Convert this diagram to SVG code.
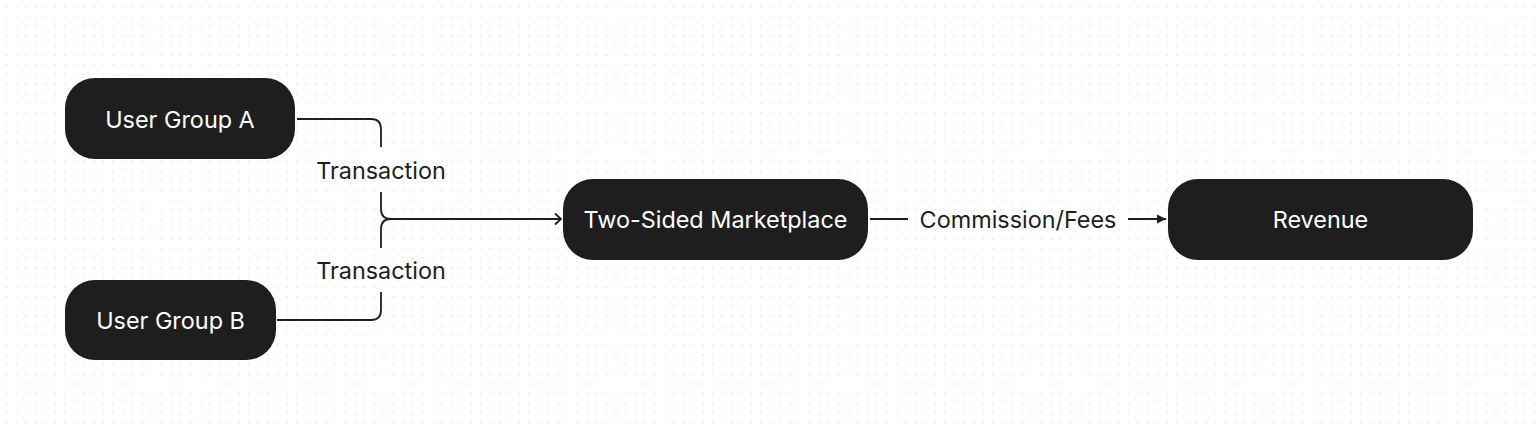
<svg xmlns="http://www.w3.org/2000/svg" width="1536" height="427" viewBox="0 0 1536 427">
<defs>
<pattern id="dots" x="0" y="0" width="9.67" height="9.67" patternUnits="userSpaceOnUse">
<rect x="6.2" y="6.2" width="1.2" height="1.2" fill="#d6d6d6"/>
</pattern>
<marker id="chev" markerWidth="12" markerHeight="14" refX="10" refY="7" orient="auto" markerUnits="userSpaceOnUse">
<path d="M4,1.5 L10,7 L4,12.5" fill="none" stroke="#1e1e1e" stroke-width="1.8"/>
</marker>
<marker id="tri" markerWidth="12" markerHeight="12" refX="10" refY="6" orient="auto" markerUnits="userSpaceOnUse">
<path d="M1,1.5 L10,6 L1,10.5 Z" fill="#1e1e1e"/>
</marker>
</defs>
<style>
.node rect{fill:#1e1e1e;}
.node text{fill:#ffffff;font-family:Inter,"Liberation Sans",sans-serif;font-size:23.4px;text-anchor:middle;dominant-baseline:central;}
.edge{fill:none;stroke:#1e1e1e;stroke-width:1.8;}
.lbl{fill:#1e1e1e;font-family:Inter,"Liberation Sans",sans-serif;font-size:23.4px;text-anchor:middle;dominant-baseline:central;}
</style>
<rect width="1536" height="427" fill="#ffffff"/>
<rect width="1536" height="427" fill="url(#dots)"/>
<g id="connectors">
<path class="edge" d="M297,119 H371 Q381,119 381,129 V147"/>
<path class="edge" d="M381,192 V209 Q381,219 391,219 H561" marker-end="url(#chev)"/>
<path class="edge" d="M277,320 H371 Q381,320 381,310 V292"/>
<path class="edge" d="M381,248 V229 Q381,219 391,219"/>
<text class="lbl" x="381" y="170">Transaction</text>
<text class="lbl" x="381" y="270">Transaction</text>
<path class="edge" d="M870,219 H908"/>
<text class="lbl" x="1018" y="219">Commission/Fees</text>
<path class="edge" d="M1128,219 H1166" marker-end="url(#tri)"/>
</g>
<g id="node-a" class="node">
<rect x="65" y="78" width="230" height="81" rx="30"/>
<text x="180" y="119">User Group A</text>
</g>
<g id="node-b" class="node">
<rect x="65" y="280" width="211" height="80" rx="30"/>
<text x="170.5" y="320">User Group B</text>
</g>
<g id="node-market" class="node">
<rect x="563" y="179" width="305" height="81" rx="30"/>
<text x="715.5" y="219.5">Two-Sided Marketplace</text>
</g>
<g id="node-revenue" class="node">
<rect x="1168" y="179" width="305" height="81" rx="30"/>
<text x="1320.5" y="219.5">Revenue</text>
</g>
</svg>
